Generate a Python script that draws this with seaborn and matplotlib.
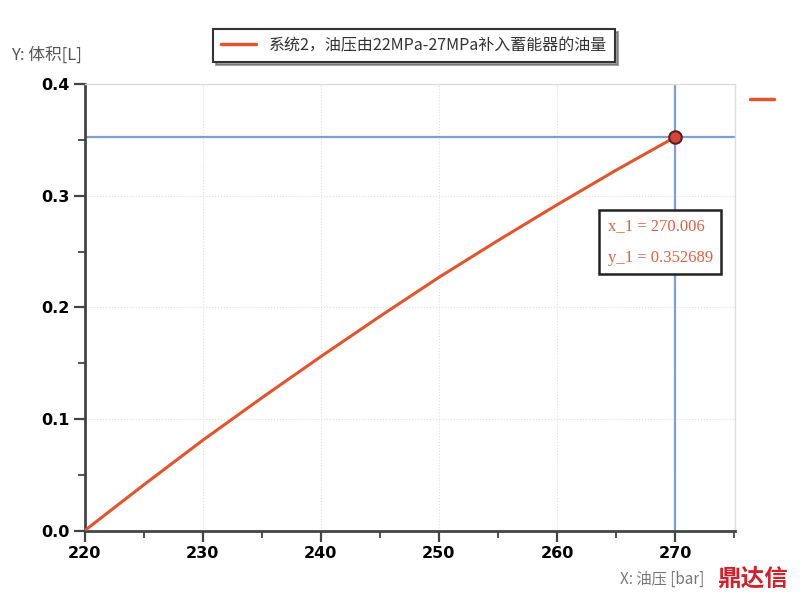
import numpy as np
import pandas as pd
import matplotlib as mpl
import matplotlib.pyplot as plt
from matplotlib.lines import Line2D
from matplotlib import ticker
import seaborn as sns

# values
pressure = [220, 225, 230, 235, 240, 245, 250, 255, 260, 265, 270.006]
volume = [0.0, 0.041, 0.081, 0.119, 0.156, 0.192, 0.227, 0.260, 0.292, 0.323, 0.352689]
cursor_x = 270.006
cursor_y = 0.352689
series_label = "系统2，油压由22MPa-27MPa补入蓄能器的油量"
x_ticks = [220, 230, 240, 250, 260, 270]
y_ticks = [0.0, 0.1, 0.2, 0.3, 0.4]

line_color = "#e4542c"
cross_color = "#7f9fd4"
cjk = ["Noto Sans CJK SC", "DejaVu Sans"]

sns.set_theme(style="white")
plt.rcParams['font.family'] = cjk

df = pd.DataFrame({'pressure': pressure, 'volume': volume})

fig = plt.figure(figsize=(8, 6.07), dpi=100)
ax = fig.add_axes([0.106, 0.126, 0.813, 0.735])

# crosshair
ax.axvline(cursor_x, color=cross_color, lw=1.6, zorder=1)
ax.axhline(cursor_y, color=cross_color, lw=1.6, zorder=1)

sns.lineplot(data=df, x='pressure', y='volume', color=line_color, lw=2.2,
             ax=ax, zorder=3, legend=False)
ax.plot([cursor_x], [cursor_y], 'o', ms=9, mfc="#d9443a", mec="#5a2020", mew=1.5, zorder=4)

ax.set_xlim(220, 275.1)
ax.set_ylim(0, 0.4)
ax.set_xticks(x_ticks)
ax.set_yticks(y_ticks)
ax.xaxis.set_minor_locator(ticker.MultipleLocator(5))
ax.yaxis.set_minor_locator(ticker.MultipleLocator(0.05))
ax.yaxis.set_major_formatter(ticker.FormatStrFormatter('%.1f'))
ax.tick_params(axis='both', which='major', direction='out', length=8, width=1.6,
               color='#444444', labelsize=11.5, labelcolor='black', pad=3,
               bottom=True, left=True)
ax.tick_params(axis='both', which='minor', direction='out', length=5, width=1.3,
               color='#444444', bottom=True, left=True)
for lab in ax.get_xticklabels() + ax.get_yticklabels():
    lab.set_fontweight('bold')
    lab.set_family('DejaVu Sans')

ax.grid(True, which='major', color='#dddddd', lw=0.8, ls=':')
for s in ['left', 'bottom']:
    ax.spines[s].set_color('#444444')
    ax.spines[s].set_linewidth(2)
for s in ['top', 'right']:
    ax.spines[s].set_color('#dddddd')
    ax.spines[s].set_linewidth(1)
ax.set_xlabel('')
ax.set_ylabel('')

# cursor readout box
ax.text(264.3, 0.280, f"x_1 = {cursor_x:.3f}\ny_1 = {cursor_y:.6f}",
        color="#e0603f", fontsize=12, family=["Liberation Serif", "DejaVu Serif"],
        va='top', ha='left', linespacing=2.3, zorder=5,
        bbox=dict(boxstyle='square,pad=0.5', fc='white', ec='#222222', lw=1.8))

# axis titles
fig.text(0.014, 0.902, "Y: 体积[L]", fontsize=12, color='#555555', family=cjk)
fig.text(0.775, 0.038, "X: 油压 [bar]", fontsize=11, color='#777777', family=cjk)

# legend above the plot
handle = Line2D([], [], color=line_color, lw=2.5)
leg = fig.legend([handle], [series_label], loc='center', bbox_to_anchor=(0.518, 0.925),
                 frameon=True, fancybox=False, shadow=True,
                 handlelength=2.2, borderpad=0.5, prop={'family': cjk, 'size': 11.5})
leg.get_frame().set_edgecolor('#333333')
leg.get_frame().set_linewidth(1.5)
for t in leg.get_texts():
    t.set_color('#333333')

# stray legend dash at right
fig.add_artist(Line2D([0.937, 0.967], [0.837, 0.837], color=line_color, lw=2.5))

# watermark
fig.text(0.985, 0.035, "鼎达信", fontsize=17, color="#d4202a", fontweight='bold',
         ha='right', family=cjk)

fig.savefig("out.png", dpi=100)
